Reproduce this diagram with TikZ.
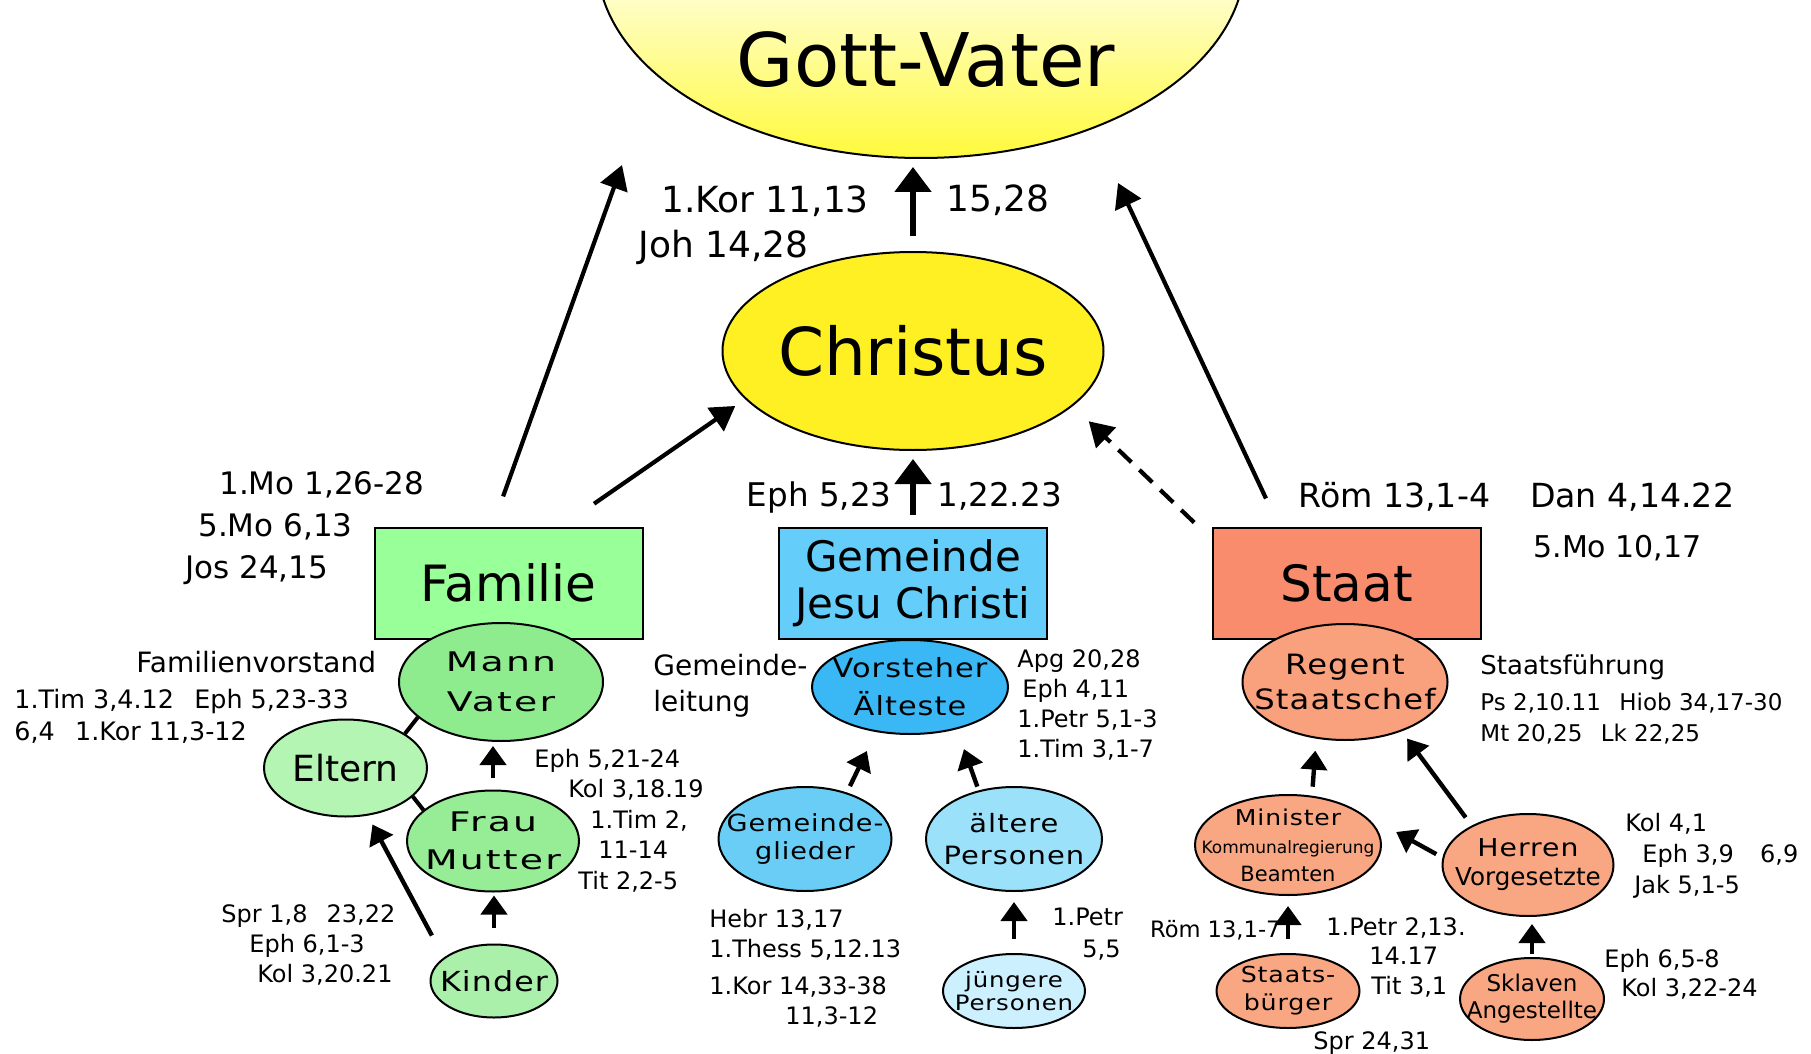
\documentclass[tikz,border=0pt]{standalone}
\usepackage{fontspec}
\setmainfont{DejaVu Sans}
\newfontfamily\widefont[FakeStretch=1.15,LetterSpace=4]{DejaVu Sans}
\newfontfamily\xwidefont[FakeStretch=1.4,LetterSpace=8]{DejaVu Sans}
\usetikzlibrary{shapes.geometric,arrows.meta}
\newcommand{\myfs}[2]{\fontsize{#1}{#2}\selectfont}

\definecolor{gvyellow}{RGB}{255,250,60}
\definecolor{gvpale}{RGB}{255,255,232}
\definecolor{chryellow}{RGB}{255,240,35}
\definecolor{boxgreen}{RGB}{153,255,153}
\definecolor{mangreen}{RGB}{142,236,142}
\definecolor{eltgreen}{RGB}{180,245,180}
\definecolor{fraugreen}{RGB}{150,237,150}
\definecolor{kindgreen}{RGB}{170,240,170}
\definecolor{boxblue}{RGB}{100,205,250}
\definecolor{vorblue}{RGB}{58,183,245}
\definecolor{gliedblue}{RGB}{105,205,245}
\definecolor{altblue}{RGB}{155,225,250}
\definecolor{jungblue}{RGB}{205,240,255}
\definecolor{boxsalmon}{RGB}{250,140,110}
\definecolor{regsalmon}{RGB}{249,160,125}
\definecolor{ovsalmon}{RGB}{249,166,130}

\tikzset{
    box/.style={rectangle, draw, line width=1pt, minimum width=134pt,
        minimum height=55.5pt, inner sep=0pt},
    oval/.style={ellipse, draw, line width=1pt, inner sep=-15pt, align=center}
}
\tikzset{
    ref/.style={anchor=base west, inner sep=0pt, align=left},
    arr/.style={line width=2.2pt, -{Triangle[length=9.5pt,width=13pt]}},
    longarr/.style={line width=2.1pt, -{Triangle[length=12pt,width=14pt]}},
    bigarr/.style={line width=2.6pt, -{Triangle[length=12.5pt,width=18pt]}},
    link/.style={line width=2pt}
}

\begin{document}
\begin{tikzpicture}[x=0.5pt, y=-0.5pt]
  \useasboundingbox (0,0) rectangle (1811,1054);

  % Gott-Vater und Christus
  \begin{scope}
    \clip (0,0) rectangle (1811,1054);
    \node (gott) [ellipse, draw, line width=1pt, inner sep=0pt,
      minimum width=324pt, minimum height=198pt, top color=white,
      bottom color=gvyellow, middle color=gvpale] at (921,-40) {};
  \end{scope}
  \node (gotttext) [font=\myfs{37}{37}] at (926,60) {Gott-Vater};
  \node (christus) [oval, fill=chryellow, minimum width=190.5pt,
    minimum height=99pt, font=\myfs{33}{33}] at (913,351) {Christus};
  \coordinate (gvleft) at (622,165);
  \coordinate (gvright) at (1118,183);

  % Ordnungen
  \node (familie) [box, fill=boxgreen, font=\myfs{25}{25}] at (508.5,583) {Familie};
  \node (gemeinde) [box, fill=boxblue, align=center, font=\myfs{21}{23.5}]
    at (913,583) {Gemeinde\\Jesu Christi};
  \node (staat) [box, fill=boxsalmon, font=\myfs{25}{25}] at (1346.5,583) {Staat};

  % Familie
  \node (mann) [oval, fill=mangreen, minimum width=102pt, minimum height=59pt,
    font=\xwidefont\myfs{13.5}{20}] at (501,682) {Mann\\Vater};
  \node (eltern) [oval, fill=eltgreen, minimum width=81.5pt, minimum height=48.5pt,
    font=\myfs{18}{18}] at (345.5,768) {Eltern};
  \node (frau) [oval, fill=fraugreen, minimum width=86pt, minimum height=50.5pt,
    font=\xwidefont\myfs{13.5}{19}] at (493,841) {Frau\\Mutter};
  \node (kinder) [oval, fill=kindgreen, minimum width=63.5pt, minimum height=36.5pt,
    font=\widefont\myfs{13.8}{14}] at (494,981) {Kinder};

  % Gemeinde
  \node (vorsteher) [oval, fill=vorblue, minimum width=98pt, minimum height=47pt,
    font=\widefont\myfs{13.2}{19}] at (910,687) {Vorsteher\\Älteste};
  \node (glieder) [oval, fill=gliedblue, minimum width=86.5pt, minimum height=52pt,
    font=\widefont\myfs{11.8}{14}] at (805,839) {Gemeinde-\\glieder};
  \node (aeltere) [oval, fill=altblue, minimum width=88pt, minimum height=52pt,
    font=\widefont\myfs{12.6}{16}] at (1014,839) {ältere\\Personen};
  \node (juengere) [oval, fill=jungblue, minimum width=71pt, minimum height=37pt,
    font=\widefont\myfs{10.6}{11.5}] at (1014,991) {jüngere\\Personen};

  % Staat
  \node (regent) [oval, fill=regsalmon, minimum width=102.5pt, minimum height=58pt,
    font=\widefont\myfs{14}{17.5}] at (1345,682) {Regent\\Staatschef};
  \node (minister) [oval, fill=ovsalmon, minimum width=93pt, minimum height=50pt,
    font=\myfs{10.5}{14}] at (1288,845)
    {{\widefont\myfs{10.9}{14}Minister}\\{\myfs{8.5}{14}Kommunalregierung}\\Beamten};
  \node (herren) [oval, fill=ovsalmon, minimum width=85.5pt, minimum height=51pt,
    font=\myfs{12.3}{14.5}] at (1528,865) {{\widefont Herren}\\Vorgesetzte};
  \node (staatsb) [oval, fill=ovsalmon, minimum width=71.5pt, minimum height=37pt,
    font=\widefont\myfs{11}{14}] at (1288,991) {Staats-\\bürger};
  \node (sklaven) [oval, fill=ovsalmon, minimum width=72pt, minimum height=41pt,
    font=\myfs{11.5}{13.5}] at (1532,999) {Sklaven\\Angestellte};

  % Bibelstellen (base = letzte Zeile)
  \node (topref) [ref, font=\myfs{18}{22.5}] at (638,257) {\hspace*{11.5pt}1.Kor 11,13\\Joh 14,28};
  \node (topref2) [ref, font=\myfs{18}{18}] at (946,212) {15,28};
  \node (famref) [ref, font=\myfs{15.5}{21}] at (185,578)
    {\hspace*{17pt}1.Mo 1,26-28\\\hspace*{6.5pt}5.Mo 6,13\\Jos 24,15};
  \node (gemref) [ref, anchor=base east, font=\myfs{16.3}{16.3}] at (892,506) {Eph 5,23};
  \node (gemref2) [ref, font=\myfs{16.3}{16.3}] at (937,506) {1,22.23};
  \node (staatref) [ref, font=\myfs{16.6}{16.6}] at (1298,507) {Röm 13,1-4\hspace*{1.2em}Dan 4,14.22};
  \node (staatref2) [ref, font=\myfs{15}{15}] at (1533,557) {5.Mo 10,17};

  \node (vorstand) [ref, font=\myfs{14}{14}] at (136,672) {Familienvorstand};
  \node (vorstandref) [ref, font=\myfs{12.7}{16}] at (14,740)
    {1.Tim 3,4.12\hspace*{0.8em}Eph 5,23-33\\6,4\hspace*{0.8em}1.Kor 11,3-12};
  \node (fraurefs) [ref, font=\myfs{12}{15.25}] at (534,889)
    {Eph 5,21-24\\\hspace*{17pt}Kol 3,18.19\\\hspace*{28pt}1.Tim 2,\\\hspace*{32pt}11-14\\\hspace*{22pt}Tit 2,2-5};
  \node (kindrefs) [ref, font=\myfs{12}{15}] at (221,982)
    {Spr 1,8\hspace*{0.8em}23,22\\\hspace*{14pt}Eph 6,1-3\\\hspace*{18pt}Kol 3,20.21};

  \node (leitung) [ref, font=\myfs{14}{18}] at (653,711) {Gemeinde-\\leitung};
  \node (vorstrefs) [ref, font=\myfs{12}{15}] at (1017,757)
    {Apg 20,28\\\hspace*{2.5pt}Eph 4,11\\1.Petr 5,1-3\\1.Tim 3,1-7};
  \node (gliedrefs) [ref, font=\myfs{12}{15}] at (709,1024)
    {Hebr 13,17\\1.Thess 5,12.13\\[3.5pt]1.Kor 14,33-38\\\hspace*{38pt}11,3-12};
  \node (jungrefs) [ref, font=\myfs{12}{16}] at (1052,957) {1.Petr\\\hspace*{15pt}5,5};

  \node (fuehrung) [ref, font=\myfs{13}{13}] at (1480,674) {Staatsführung};
  \node (fuehrungrefs) [ref, font=\myfs{11.5}{15.5}] at (1480,741)
    {Ps 2,10.11\hspace*{0.8em}Hiob 34,17-30\\Mt 20,25\hspace*{0.8em}Lk 22,25};
  \node (herrenrefs) [ref, font=\myfs{12}{15.5}] at (1625,893)
    {Kol 4,1\\\hspace*{8.5pt}Eph 3,9\hspace*{1.1em}6,9\\\hspace*{4.5pt}Jak 5,1-5};
  \node (sklavenrefs) [ref, font=\myfs{12}{14.5}] at (1604,996) {Eph 6,5-8\\\hspace*{8.5pt}Kol 3,22-24};
  \node (buergerref) [ref, anchor=base east, font=\myfs{11.3}{11.3}] at (1281,937) {Röm 13,1-7};
  \node (buergerrefs) [ref, font=\myfs{12}{14.75}] at (1326,994)
    {1.Petr 2,13.\\\hspace*{21.5pt}14.17\\\hspace*{22.5pt}Tit 3,1};
  \node (buergerref2) [ref, font=\myfs{12}{12}] at (1313,1049) {Spr 24,31};

  % Pfeile
  \draw (christus.north) edge [bigarr, shorten <=7.5pt, shorten >=4pt] (christus.north |- gott.south);
  \draw (gemeinde.north) edge [bigarr, shorten <=6pt, shorten >=4pt] (gemeinde.north |- christus.south);
  \draw (familie.47) edge [longarr, shorten <=20pt, shorten >=6pt] (christus.196);
  \draw (familie.106) edge [longarr, shorten <=16pt] (gvleft);
  \draw (staat.140) edge [longarr, shorten <=15.5pt] (gvright);
  \draw (staat.162) edge [longarr, dash pattern=on 9pt off 5.5pt, shorten <=12pt, shorten >=11pt] (christus.341);

  \draw (eltern.30) edge [link] (mann.203); \draw (eltern.337) edge [link] (frau.156);
  \draw (frau.north) edge [arr, shorten <=6pt, shorten >=2pt] (frau.north |- mann.south);
  \draw (kinder.north) edge [arr, shorten <=8pt, shorten >=1.5pt] (kinder.north |- frau.south);
  \draw (kinder.155) edge [arr, shorten <=12.5pt, shorten >=5pt] (eltern.295);

  \draw (glieder.48) edge [arr, shorten <=3.5pt, shorten >=10.5pt] (vorsteher.233);
  \draw (aeltere.126) edge [arr, shorten <=2pt, shorten >=10.5pt] (vorsteher.318);
  \draw (juengere.north) edge [arr, shorten <=7pt, shorten >=5pt] (juengere.north |- aeltere.south);

  \draw (minister.64) edge [arr, shorten <=4.5pt, shorten >=6pt] (regent.243);
  \draw (herren.145) edge [arr, shorten <=5pt, shorten >=4.5pt] (regent.319);
  \draw (herren.175) edge [arr, shorten <=3.5pt, shorten >=25pt] (minister.30);
  \draw (staatsb.north) edge [arr, shorten <=7pt, shorten >=5pt] (staatsb.north |- minister.south);
  \draw (sklaven.north) edge [arr, shorten <=1.5pt, shorten >=3.5pt] (sklaven.north |- herren.south);
\end{tikzpicture}
\end{document}
